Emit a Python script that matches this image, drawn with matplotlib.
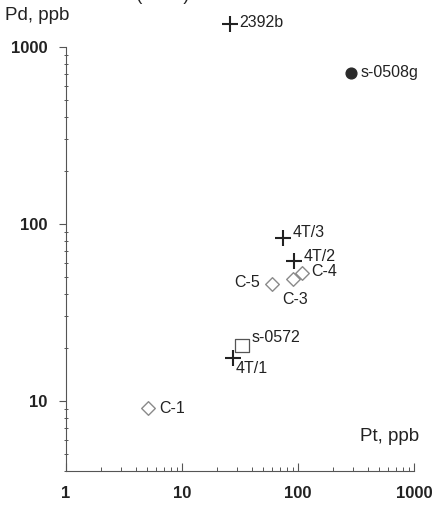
import matplotlib
matplotlib.use("Agg")
import matplotlib.pyplot as plt
from matplotlib.ticker import LogLocator, NullFormatter, FixedLocator

plt.rcParams['font.family'] = ['Liberation Sans', 'DejaVu Sans']

# data (Pt ppb, Pd ppb)
plus_names = ["2392b", "4T/3", "4T/2", "4T/1"]
plus_pt = [26, 74, 93, 27.5]
plus_pd = [1350, 83, 62, 17.5]

diam_names = ["C-1", "C-3", "C-4", "C-5"]
diam_pt = [5.1, 91, 108, 60]
diam_pd = [9.1, 49, 53, 46]

sq_names = ["s-0572"]
sq_pt = [33]
sq_pd = [20.5]

circ_names = ["s-0508g"]
circ_pt = [285]
circ_pd = [713]

x_ticks = [1, 10, 100, 1000]
y_ticks = [10, 100, 1000]

fig = plt.figure(figsize=(4.33, 5.05), dpi=100)
ax = fig.add_axes([0.152, 0.067, 0.804, 0.840])
ax.set_xscale('log')
ax.set_yscale('log')
ax.set_xlim(1, 1000)
ax.set_ylim(4.0, 1000)

ax.scatter(plus_pt, plus_pd, marker='+', s=120, color='#222222', linewidths=1.5, clip_on=False, zorder=3)
ax.scatter(diam_pt, diam_pd, marker='D', s=48, facecolors='white', edgecolors='#8a8a8a', linewidths=1.0, clip_on=False, zorder=3)
ax.scatter(sq_pt, sq_pd, marker='s', s=95, facecolors='none', edgecolors='#555555', linewidths=0.9, clip_on=False, zorder=2)
ax.scatter(circ_pt, circ_pd, marker='o', s=60, color='#2a2a2a', clip_on=False, zorder=3)

# labels (offsets in points)
offsets = {
    "2392b": (7, 1, 'left', 'center'),
    "4T/3": (7, 4, 'left', 'center'),
    "4T/2": (7, 3, 'left', 'center'),
    "4T/1": (2, -8, 'left', 'center'),
    "C-1": (8, 0, 'left', 'center'),
    "C-3": (-8, -15, 'left', 'center'),
    "C-4": (7, 1, 'left', 'center'),
    "C-5": (-9, 1, 'right', 'center'),
    "s-0572": (7, 6, 'left', 'center'),
    "s-0508g": (7, 0, 'left', 'center'),
}
for names, xs, ys in [(plus_names, plus_pt, plus_pd), (diam_names, diam_pt, diam_pd),
                      (sq_names, sq_pt, sq_pd), (circ_names, circ_pt, circ_pd)]:
    for n, x, y in zip(names, xs, ys):
        dx, dy, ha, va = offsets[n]
        ax.annotate(n, (x, y), xytext=(dx, dy), textcoords='offset points',
                    ha=ha, va=va, fontsize=11.5, color='#222222', annotation_clip=False)

for s in ['top', 'right']:
    ax.spines[s].set_visible(False)
for s in ['left', 'bottom']:
    ax.spines[s].set_color('#555555')
    ax.spines[s].set_linewidth(0.8)

ax.xaxis.set_major_locator(FixedLocator(x_ticks))
ax.yaxis.set_major_locator(FixedLocator(y_ticks))
ax.set_xticklabels([str(t) for t in x_ticks])
ax.set_yticklabels([str(t) for t in y_ticks])
ax.xaxis.set_minor_locator(LogLocator(base=10, subs=range(2, 10)))
ax.yaxis.set_minor_locator(LogLocator(base=10, subs=range(2, 10)))
ax.xaxis.set_minor_formatter(NullFormatter())
ax.yaxis.set_minor_formatter(NullFormatter())

ax.tick_params(axis='x', which='major', direction='in', length=6, width=0.8, color='#555555',
               labelsize=12, pad=11, labelcolor='#222222')
ax.tick_params(axis='x', which='minor', direction='in', length=3, width=0.7, color='#555555')
ax.tick_params(axis='y', which='major', direction='out', length=5, width=0.8, color='#555555',
               labelsize=12, pad=8, labelcolor='#222222')
ax.tick_params(axis='y', which='minor', direction='inout', length=2.5, width=0.7, color='#555555')
for lab in ax.get_xticklabels() + ax.get_yticklabels():
    lab.set_fontweight('bold')

fig.text(0.012, 0.969, "Pd, ppb", fontsize=13.5, color='#222222', ha='left', va='center')
fig.text(0.968, 0.135, "Pt, ppb", fontsize=13.5, color='#222222', ha='right', va='center')
fig.text(0.012, 1.008, "in ore data from (Scott)", fontsize=13, color='#222222', ha='left', va='center')

fig.savefig("out.png", dpi=100)
